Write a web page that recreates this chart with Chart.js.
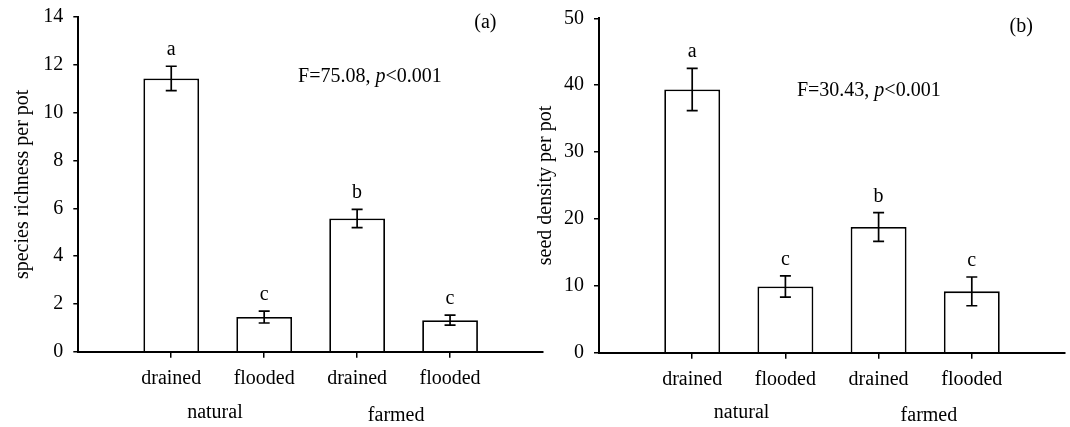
<!DOCTYPE html>
<html>
<head>
<meta charset="utf-8">
<script src="https://cdn.jsdelivr.net/npm/chart.js@4"></script>
<style>
  html, body { margin: 0; padding: 0; background: #fff; }
  body { width: 1070px; height: 427px; position: relative; overflow: hidden; }
  canvas { position: absolute; top: 0; }
  #chartA { left: 0; }
  #chartB { left: 530px; }
</style>
</head>
<body>
<canvas id="chartA" width="545" height="427"></canvas>
<canvas id="chartB" width="540" height="427"></canvas>
<script>
const FONT = '"Liberation Serif", "Times New Roman", serif';

// treatments along the x axis
const treatments = ["drained", "flooded", "drained", "flooded"];
const treatmentPos = [1, 2, 3, 4];
const habitats = ["natural", "farmed"];
const letters = ["a", "c", "b", "c"];

// (a) species richness per pot
const richnessMean = [11.43, 1.45, 5.57, 1.32];
const richnessSE = [0.51, 0.25, 0.38, 0.21];
const richnessTicks = [0, 2, 4, 6, 8, 10, 12, 14];

// (b) seed density per pot
const densityMean = [39.35, 9.9, 18.8, 9.17];
const densitySE = [3.15, 1.6, 2.14, 2.15];
const densityTicks = [0, 10, 20, 30, 40, 50];

function makeChart(id, cfg) {
  // error bars, significance letters, stats text, panel tag, habitat labels
  const marks = {
    id: "marks",
    afterDatasetsDraw(chart) {
      const { ctx, scales: { x, y } } = chart;
      ctx.save();
      ctx.strokeStyle = "#000";
      ctx.fillStyle = "#000";
      ctx.lineWidth = 1.7;
      ctx.font = "20px " + FONT;
      ctx.textAlign = "center";
      ctx.textBaseline = "alphabetic";
      treatmentPos.forEach((pos, i) => {
        const px = x.getPixelForValue(pos);
        const top = y.getPixelForValue(cfg.means[i] + cfg.se[i]);
        const bot = y.getPixelForValue(cfg.means[i] - cfg.se[i]);
        ctx.beginPath();
        ctx.moveTo(px, top); ctx.lineTo(px, bot);
        ctx.moveTo(px - 5.5, top); ctx.lineTo(px + 5.5, top);
        ctx.moveTo(px - 5.5, bot); ctx.lineTo(px + 5.5, bot);
        ctx.stroke();
        ctx.fillText(letters[i], px, top - 11);
      });

      // F statistic, with italic p
      ctx.textAlign = "left";
      ctx.textBaseline = "middle";
      let sx = x.getPixelForValue(cfg.statX);
      const sy = y.getPixelForValue(cfg.statY);
      const parts = [[cfg.stat, "20px "], ["p", "italic 20px "], ["<0.001", "20px "]];
      parts.forEach(([t, f]) => {
        ctx.font = f + FONT;
        ctx.fillText(t, sx, sy);
        sx += ctx.measureText(t).width;
      });

      ctx.font = "20px " + FONT;
      ctx.textAlign = "center";
      ctx.fillText(cfg.tag, x.getPixelForValue(cfg.tagX), y.getPixelForValue(cfg.tagY));

      habitats.forEach((h, i) => {
        ctx.fillText(h, x.getPixelForValue(cfg.habitatX[i]), cfg.habitatY[i]);
      });
      ctx.restore();
    }
  };

  return new Chart(document.getElementById(id), {
    type: "bar",
    data: {
      datasets: [{
        data: treatmentPos.map((v, i) => ({ x: v, y: cfg.means[i] })),
        backgroundColor: "#fff",
        borderColor: "#000",
        borderWidth: 1.8,
        barPercentage: 1,
        categoryPercentage: 0.6
      }]
    },
    options: {
      responsive: false,
      animation: false,
      events: [],
      layout: { padding: cfg.padding },
      plugins: { legend: { display: false }, tooltip: { enabled: false } },
      scales: {
        x: {
          type: "linear",
          min: 0,
          max: 5,
          offset: false,
          afterBuildTicks: s => { s.ticks = treatmentPos.map(v => ({ value: v })); },
          afterFit: s => { s.height = cfg.xHeight; },
          ticks: {
            callback: (v, i) => treatments[i],
            color: "#000",
            font: { family: FONT, size: 20 },
            padding: 9,
            maxRotation: 0,
            autoSkip: false
          },
          grid: { offset: false, drawOnChartArea: false, drawTicks: true, tickLength: 6, color: "#000", lineWidth: 1.5 },
          border: { display: true, color: "#000", width: 2 }
        },
        y: {
          min: 0,
          max: cfg.ticks[cfg.ticks.length - 1],
          afterBuildTicks: s => { s.ticks = cfg.ticks.map(v => ({ value: v })); },
          afterFit: s => {
            s.width = cfg.yWidth;
            s.paddingTop = 0;
            s.paddingBottom = 0;
          },
          ticks: { color: "#000", font: { family: FONT, size: 20 }, padding: 10 },
          grid: { drawOnChartArea: false, drawTicks: true, tickLength: 5, color: "#000", lineWidth: 1.5 },
          border: { display: true, color: "#000", width: 2 },
          title: {
            display: true,
            text: cfg.yTitle,
            color: "#000",
            font: { family: FONT, size: 20 },
            padding: { top: cfg.titlePad, bottom: 0 }
          }
        }
      }
    },
    plugins: [marks]
  });
}

makeChart("chartA", {
  means: richnessMean,
  se: richnessSE,
  ticks: richnessTicks,
  yTitle: "species richness per pot",
  stat: "F=75.08, ",
  statX: 2.365, statY: 11.52,
  tag: "(a)", tagX: 4.38, tagY: 13.74,
  habitatX: [1.47, 3.42], habitatY: [413, 416],
  padding: { top: 17, right: 2, left: 0, bottom: 0 },
  yWidth: 78.3, xHeight: 75.3, titlePad: 10.4
});

makeChart("chartB", {
  means: densityMean,
  se: densitySE,
  ticks: densityTicks,
  yTitle: "seed density per pot",
  stat: "F=30.43, ",
  statX: 2.124, statY: 39.2,
  tag: "(b)", tagX: 4.53, tagY: 48.7,
  habitatX: [1.53, 3.54], habitatY: [413, 416],
  padding: { top: 18.3, right: 5, left: 0, bottom: 0 },
  yWidth: 69, xHeight: 74.3, titlePad: 3.5
});
</script>
</body>
</html>
